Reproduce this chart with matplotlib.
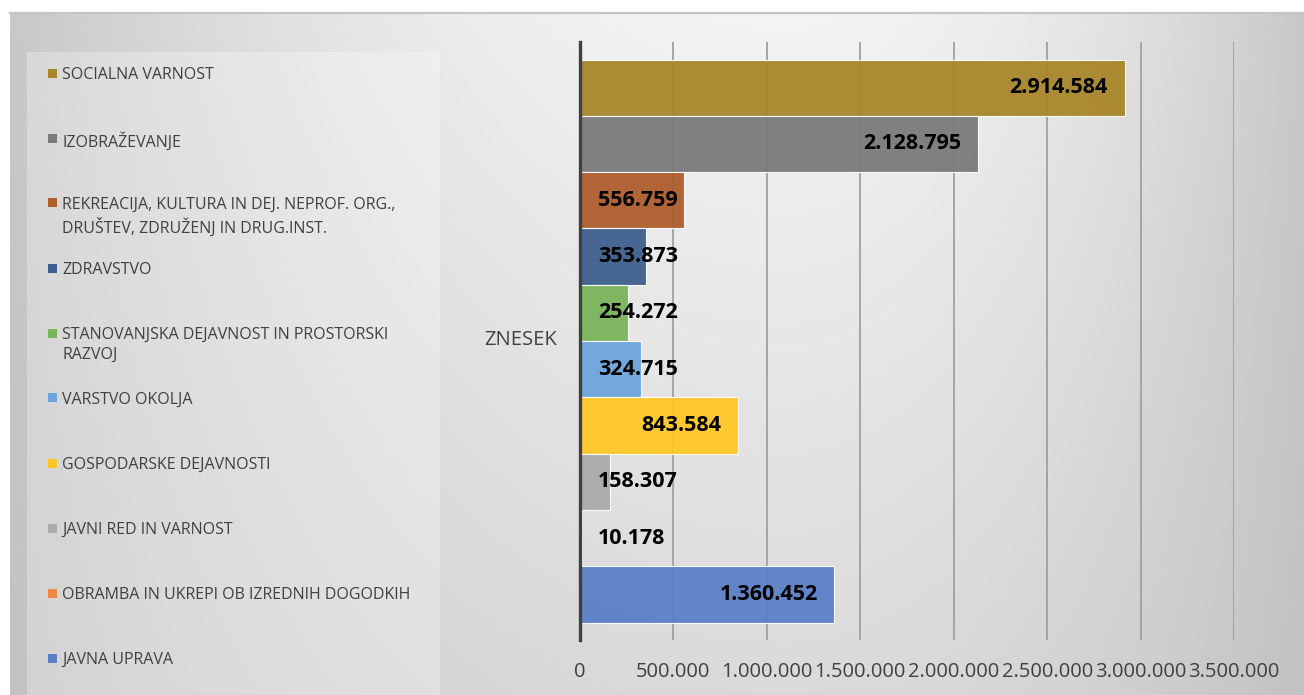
import numpy as np
import matplotlib
matplotlib.use("Agg")
import matplotlib.pyplot as plt
from matplotlib.patches import Rectangle

# ---------------- data (legend order, top to bottom) ----------------
categories = ["ZNESEK"]
series_names = [
    "SOCIALNA VARNOST",
    "IZOBRAŽEVANJE",
    "REKREACIJA, KULTURA IN DEJ. NEPROF. ORG.,\nDRUŠTEV, ZDRUŽENJ IN DRUG.INST.",
    "ZDRAVSTVO",
    "STANOVANJSKA DEJAVNOST IN PROSTORSKI\nRAZVOJ",
    "VARSTVO OKOLJA",
    "GOSPODARSKE DEJAVNOSTI",
    "JAVNI RED IN VARNOST",
    "OBRAMBA IN UKREPI OB IZREDNIH DOGODKIH",
    "JAVNA UPRAVA",
]
values = [2914584, 2128795, 556759, 353873, 254272, 324715, 843584, 158307, 10178, 1360452]
value_labels = ["2.914.584", "2.128.795", "556.759", "353.873", "254.272",
                "324.715", "843.584", "158.307", "10.178", "1.360.452"]
colors = ["#A8862A", "#7A7A7A", "#AE5E2C", "#3F5F8E", "#7BB35A",
          "#6CA5DB", "#FFC726", "#AAAAAA", "#EF8A48", "#5B80C8"]
x_ticks = [0, 500000, 1000000, 1500000, 2000000, 2500000, 3000000, 3500000]
x_tick_labels = ["0", "500.000", "1.000.000", "1.500.000", "2.000.000",
                 "2.500.000", "3.000.000", "3.500.000"]

W, H = 1304, 695
fig = plt.figure(figsize=(W / 100, H / 100), dpi=100)
fig.patch.set_facecolor("white")

def fx(px):
    return px / W

def fy(py):
    return 1 - py / H

# ---------------- background gradient panel ----------------
x0, y0 = 10, 13
bg_ax = fig.add_axes([fx(x0), 0, fx(W - x0), fy(y0)])
bg_ax.set_axis_off()
nx, ny = 400, 200
u = np.linspace(0, 1, nx)[None, :]
v = np.linspace(0, 1, ny)[:, None]
dx = np.where(u < 0.6, (u - 0.6) / 0.6, (u - 0.6) / 0.4)
b = 0.955 - 0.17 * dx ** 2 - 0.10 * v * (1 - 0.75 * dx ** 2)
img = np.dstack([b, b, b])
bg_ax.imshow(img, aspect="auto", extent=[0, 1, 0, 1], interpolation="bilinear")
bg_ax.set_xlim(0, 1)
bg_ax.set_ylim(0, 1)
# top border line
fig.add_artist(plt.Line2D([fx(x0), 1], [fy(y0), fy(y0)], color="#C4C4C4", lw=1.6))

# legend box
fig.add_artist(Rectangle((fx(27), 0), fx(440 - 27), fy(52), transform=fig.transFigure,
                         facecolor="white", alpha=0.28, edgecolor="none", zorder=1))

# ---------------- plot axes ----------------
ax_left, ax_right = 580, 1234
ax_top, ax_bottom = 42, 640
ax = fig.add_axes([fx(ax_left), fy(ax_bottom), fx(ax_right - ax_left), (ax_bottom - ax_top) / H])
ax.patch.set_visible(False)
ax.set_xlim(0, 3500000)
ax.set_ylim(-0.5, 0.5)

n = len(values)
bw = (623 - 60) / (ax_bottom - ax_top) / n
centers = [(n - 1 - i - (n - 1) / 2) * bw for i in range(n)]

ax.set_xticks(x_ticks)
ax.set_xticklabels(x_tick_labels)
ax.xaxis.grid(True, color="#A0A0A0", lw=1.3, zorder=0)
ax.set_axisbelow(True)
ax.set_yticks([])
for s in ["top", "right", "bottom"]:
    ax.spines[s].set_visible(False)
ax.spines["left"].set_color("#404040")
ax.spines["left"].set_linewidth(2.4)
ax.spines["left"].set_zorder(5)
ax.tick_params(axis="x", length=0, pad=16, labelsize=14.5, labelcolor="#404040")
for t in ax.get_xticklabels():
    t.set_fontfamily("Open Sans")

bars = ax.barh(centers, values, height=bw, color=colors, alpha=0.95,
               edgecolor=(1, 1, 1, 0.35), linewidth=0.8, zorder=2)

# y label (category)
fig.text(fx(557), fy(340), categories[0], ha="right", va="center",
         fontsize=14.5, color="#404040", family="Open Sans")

# data labels
fig.canvas.draw()
renderer = fig.canvas.get_renderer()
pad_pt = 12
for val, lab, yc in zip(values, value_labels, centers):
    t = ax.annotate(lab, xy=(val, yc), xytext=(-pad_pt, 0), textcoords="offset points",
                    ha="right", va="center", fontsize=15.5, fontweight="bold",
                    color="black", family="Open Sans", zorder=6)
    tw = t.get_window_extent(renderer).width
    bar_px = ax.transData.transform((val, 0))[0] - ax.transData.transform((0, 0))[0]
    if tw + 2 * pad_pt * 100 / 72 > bar_px:
        t.remove()
        ax.annotate(lab, xy=(0, yc), xytext=(pad_pt + 1, 0), textcoords="offset points",
                    ha="left", va="center", fontsize=15.5, fontweight="bold",
                    color="black", family="Open Sans", zorder=6)

# legend (manual, Excel-like spacing)
leg_top, leg_step = 73, 65
for i, (name, c) in enumerate(zip(series_names, colors)):
    yc = leg_top + i * leg_step
    fig.add_artist(Rectangle((fx(48), fy(yc + 4.5)), fx(9), 9 / H, transform=fig.transFigure,
                             facecolor=c, edgecolor="none", zorder=3))
    fig.text(fx(62), fy(yc - 6), name, ha="left", va="top", fontsize=11.5,
             color="#404040", family="Open Sans", linespacing=1.3, zorder=3)

fig.savefig("out.png", dpi=100)
